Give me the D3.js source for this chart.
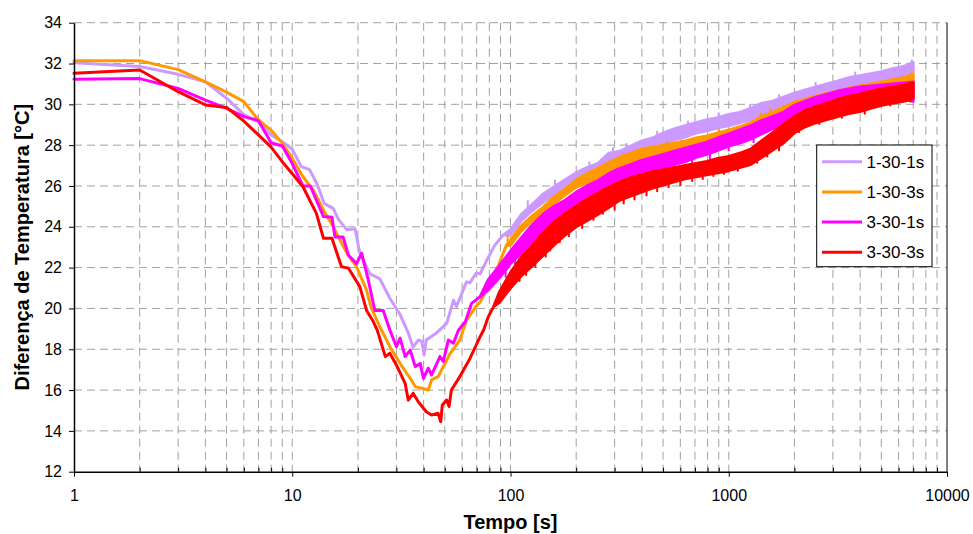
<!DOCTYPE html>
<html><head><meta charset="utf-8">
<script src="https://cdn.jsdelivr.net/npm/d3@7"></script>
<style>
html,body{margin:0;padding:0;background:#fff;}
svg{display:block;font-family:"Liberation Sans",Arial,sans-serif;}
</style></head>
<body><svg id="c" width="973" height="534"></svg>
<script>
// ---- data ----
const seriesNames = ["1-30-1s","1-30-3s","3-30-1s","3-30-3s"];
const seriesColors = ["#CC99FF","#FF9900","#FF00FF","#FF0000"];
const yTicks = [12,14,16,18,20,22,24,26,28,30,32,34];
const xTicks = [1,10,100,1000,10000];
const xTickLabels = ["1","10","100","1000","10000"];
const xTitle = "Tempo [s]";
const yTitle = "Diferença de Temperatura [°C]";

// rows: [t, high, low]  (low omitted where the trace is a single line)
const s1 = [[1,32.04],[2,31.85],[3,31.47],[4,31.1],[5,30.3],[6,29.5],[7,29.15],[8,28.5],[9,28.17],[10,27.8],[11,26.95],[12,26.8],[13,26.1],[14,25.15],[15.4,24.9],[16.3,24.35],[17.8,23.85],[19.4,23.9],[20.4,22.7],[22.7,21.7],[25.2,21.45],[28,20.5],[31.2,19.7],[34,18.8],[35.8,18.1],[37.8,18.45],[39.2,18.4],[40.2,17.72],[41.1,18.45],[45.8,18.8],[51,19.27],[54.8,20.4],[56.5,20.1],[58.6,20.5],[62.9,21.3],[65.2,21.25],[69.5,21.72],[72.6,21.7],[77.9,22.37],[84.8,23.1],[92.6,23.6],
[100,23.85,23.6],[112,24.6,24.3],[126,25.1,24.8],[141,25.6,25.2],[158,25.95,25.6],[178,26.3,25.9],[200,26.65,26.2],[224,26.9,26.5],[251,27.1,26.7],[282,27.6,27.1],[316,27.7,27.3],[355,27.95,27.45],[398,28.2,27.7],[447,28.35,27.9],[501,28.6,28.05],[562,28.8,28.25],[631,28.95,28.4],[708,29.1,28.6],[794,29.25,28.7],[891,29.35,28.85],[1000,29.5,28.95],[1122,29.6,29.1],[1259,29.8,29.25],[1413,30.05,29.5],[1585,30.15,29.65],[1778,30.35,29.8],[1995,30.55,30.0],[2239,30.7,30.15],[2512,30.85,30.3],[2818,31.0,30.45],[3162,31.15,30.6],[3548,31.3,30.8],[3981,31.4,30.9],[4467,31.5,31.0],[5012,31.6,31.1],[5623,31.75,31.25],[6310,31.85,31.35],[7000,32.05,31.5]];

const s2 = [[1,32.14],[2,32.14],[3,31.7],[4,31.1],[5,30.6],[6,30.13],[7,29.23],[8,28.74],[9,28.09],[10,27.35],[11.2,26.45],[12.5,25.8],[13.9,24.82],[15.4,24.0],[17.8,22.7],[19.7,22.05],[21.9,20.9],[22.9,20.1],[25.2,19.1],[28,18.13],[31.2,17.31],[34.7,16.58],[36.6,16.17],[39.2,16.09],[42,16.0],[43.5,16.5],[46.6,16.66],[49.2,17.15],[53,17.8],[58.6,18.45],[62.9,19.43],[69.5,20.1],[72.6,20.3],[77.9,21.0],[86.3,21.88],[95.8,23.1],
[100,23.35,23.1],[112,24.05,23.8],[126,24.55,24.3],[141,24.95,24.7],[158,25.45,25.15],[178,25.85,25.55],[200,26.3,25.95],[224,26.6,26.15],[251,26.85,26.4],[282,27.15,26.7],[316,27.4,26.9],[355,27.6,27.1],[398,27.8,27.3],[447,27.9,27.45],[501,28.0,27.55],[562,28.1,27.65],[631,28.2,27.75],[708,28.35,27.9],[794,28.45,28.05],[891,28.6,28.15],[1000,28.75,28.3],[1122,28.9,28.5],[1259,29.1,28.7],[1413,29.4,28.95],[1585,29.6,29.15],[1778,29.85,29.45],[1995,30.1,29.7],[2239,30.25,29.85],[2512,30.4,30.0],[2818,30.55,30.1],[3162,30.65,30.25],[3548,30.8,30.4],[3981,30.9,30.5],[4467,31.0,30.65],[5012,31.1,30.75],[5623,31.2,30.85],[6310,31.3,30.95],[7000,31.45,31.05]];

const s3 = [[1,31.23],[2,31.26],[3,30.78],[4,30.21],[5,29.8],[6,29.4],[7,29.2],[8,28.12],[9,27.96],[10,27.1],[11.2,26.0],[12.1,26.0],[13.9,24.5],[15.2,24.47],[15.7,23.5],[17.1,23.5],[18.1,22.6],[19.7,22.2],[20.8,22.7],[22.3,21.4],[23.9,19.9],[26.1,19.9],[28,18.94],[30,18.13],[31.2,18.54],[32.9,17.64],[34.7,17.96],[36.6,17.15],[38.6,17.3],[39.9,16.58],[42,17.07],[43.5,16.74],[47.5,17.64],[49.2,17.4],[51.9,18.45],[54.8,18.3],[57.8,18.94],[62.1,19.35],[66.3,20.25],[72.6,20.58],
[79,21.4,20.9],[89,22.1,21.5],[100,22.8,22.2],[112,23.45,22.7],[126,24.1,23.3],[141,24.6,23.7],[158,25.0,24.2],[178,25.3,24.5],[200,25.7,24.9],[224,26.0,25.2],[251,26.25,25.4],[282,26.6,25.6],[316,26.85,25.9],[355,27.05,26.2],[398,27.25,26.45],[447,27.4,26.65],[501,27.55,26.85],[562,27.7,27.05],[631,27.85,27.2],[708,28.0,27.4],[794,28.15,27.55],[891,28.35,27.75],[1000,28.55,27.95],[1122,28.75,28.1],[1259,28.95,28.3],[1413,29.2,28.55],[1585,29.4,28.8],[1778,29.6,29.0],[1995,29.95,29.35],[2239,30.15,29.55],[2512,30.35,29.75],[2818,30.5,29.9],[3162,30.65,30.0],[3548,30.75,30.1],[3981,30.85,30.2],[4467,30.9,30.25],[5012,30.95,30.3],[5623,31.0,30.3],[6310,31.05,30.25],[7000,31.1,30.15]];

const s4 = [[1,31.52],[2,31.68],[3,30.62],[4,29.97],[5,29.85],[6,29.18],[7,28.5],[8,27.9],[9,27.19],[10,26.6],[11.2,25.96],[12.9,24.66],[13.9,23.44],[15.2,23.44],[16.8,22.05],[18.1,21.97],[20.4,21.07],[21.9,19.9],[23.4,19.4],[24.5,18.94],[26.7,17.64],[28,17.8],[30,17.23],[32.9,16.33],[34,15.51],[35.8,15.84],[37.8,15.43],[41.1,14.94],[43.5,14.78],[46.6,14.86],[47.9,14.45],[48.7,15.27],[51,15.51],[52.3,15.19],[53.6,16.0],[58.6,16.66],[65.2,17.55],[72.6,18.62],[75.3,18.94],[79.2,19.6],[83.7,20.09],
[89,20.8,20.3],[100,21.75,21.0],[112,22.5,21.6],[126,23.1,22.1],[141,23.7,22.6],[158,24.2,23.1],[178,24.65,23.6],[200,25.0,24.0],[224,25.35,24.3],[251,25.65,24.6],[282,25.95,24.95],[316,26.2,25.3],[355,26.4,25.5],[398,26.55,25.7],[447,26.7,25.9],[501,26.8,26.05],[562,26.9,26.2],[631,27.0,26.35],[708,27.1,26.45],[794,27.2,26.55],[891,27.35,26.65],[1000,27.45,26.75],[1122,27.6,26.9],[1259,27.8,27.05],[1413,28.2,27.4],[1585,28.6,27.75],[1778,29.0,28.1],[1995,29.4,28.6],[2239,29.7,28.9],[2512,29.9,29.1],[2818,30.05,29.25],[3162,30.25,29.4],[3548,30.4,29.55],[3981,30.5,29.65],[4467,30.65,29.8],[5012,30.75,29.95],[5623,30.85,30.05],[6310,30.95,30.15],[7000,31.05,30.3]];

// individual noise spikes seen in the picture: [t, from, to]
const k1 = [[120,24.7,25.3],[160,25.6,26.3],[230,26.6,27.2],[295,27.2,27.9],[340,27.5,28.1],[470,28.0,28.7],[650,28.5,29.2],[900,28.9,29.6],[1250,29.3,30.0],[1700,29.8,30.5],[2500,30.4,31.1],[3800,31.0,31.6],[6900,31.6,32.2]];
const k2 = [[97,23.0,23.6],[330,27.0,27.6],[520,27.6,28.2],[900,28.2,28.8],[1400,29.0,29.6],[1550,29.2,29.8],[6900,31.0,31.6]];
const k3 = [[95,22.5,21.5],[105,23.0,21.9],[118,23.7,22.5],[133,24.3,23.0],[150,24.8,23.5],[170,25.2,23.9],[190,25.5,24.2],[215,25.9,24.6],[235,26.1,24.8],[270,26.45,25.1],[300,26.7,25.3],[340,26.95,25.6],[380,27.15,25.9],[430,27.35,26.2],[480,27.5,26.4],[560,27.7,26.7],[680,27.95,27.0],[820,28.2,27.3],[1000,28.55,27.7],[1300,29.0,28.1],[1700,29.5,28.6],[2300,30.2,29.3],[3200,30.65,29.8],[4500,30.9,30.0],[6500,31.05,30.1]];
const k4 = [[110,22.4,21.3],[118,22.8,21.6],[130,23.2,22.0],[145,23.8,22.5],[152,24.0,22.8],[168,24.4,23.2],[185,24.8,23.5],[213,25.2,23.9],[240,25.5,24.3],[265,25.8,24.6],[300,26.05,24.8],[330,26.25,25.1],[370,26.45,25.3],[420,26.6,25.5],[470,26.7,25.7],[530,26.85,25.9],[600,26.95,26.0],[680,27.05,26.2],[760,27.15,26.3],[850,27.3,26.45],[950,27.4,26.55],[1100,27.55,26.7],[1350,28.0,27.1],[1500,28.4,27.4],[1700,28.8,27.7],[1900,29.2,28.3],[2100,29.55,28.6],[2600,29.95,29.0],[3300,30.3,29.3],[4200,30.55,29.5],[5500,30.85,29.9],[6800,31.0,30.1]];

const allSeries = [s1,s2,s3,s4];
const allSpikes = [k1,k2,k3,k4];

// ---- layout ----
const L=74, R=947, T=22.7, B=471.7;
const svg = d3.select("#c");
const x = d3.scaleLog().domain([1,10000]).range([L,R]);
const y = d3.scaleLinear().domain([12,34]).range([B,T]);

const minorT = [];
for (let d=1; d<10000; d*=10) for (let k=2;k<=10;k++) minorT.push(d*k);
const gridX = minorT.filter(v=>v<10000);

const g = svg.append("g");
g.selectAll("line.gx").data(gridX).join("line")
  .attr("x1",d=>x(d)).attr("x2",d=>x(d)).attr("y1",T).attr("y2",B)
  .attr("stroke","#a0a0a0").attr("stroke-width",1).attr("stroke-dasharray","8,5");
g.selectAll("line.gy").data(yTicks.filter(v=>v>12)).join("line")
  .attr("x1",L).attr("x2",R).attr("y1",d=>y(d)).attr("y2",d=>y(d))
  .attr("stroke","#a0a0a0").attr("stroke-width",1).attr("stroke-dasharray","8,5");
svg.append("line").attr("x1",R).attr("x2",R).attr("y1",T).attr("y2",B)
  .attr("stroke","#000").attr("stroke-width",1);

const area = d3.area()
  .x(d=>x(d[0]))
  .y1(d=>y(d[1]))
  .y0(d=>y(d.length>2?d[2]:d[1]));
allSeries.forEach((s,i)=>{
  svg.append("path").datum(s).attr("d",area)
    .attr("fill",seriesColors[i]).attr("stroke",seriesColors[i])
    .attr("stroke-width",3).attr("stroke-linejoin","round");
  svg.append("g").selectAll("line").data(allSpikes[i]).join("line")
    .attr("x1",d=>x(d[0])).attr("x2",d=>x(d[0]))
    .attr("y1",d=>y(d[1])).attr("y2",d=>y(d[2]))
    .attr("stroke",seriesColors[i]).attr("stroke-width",2);
});

const yAxis = d3.axisLeft(y).tickValues(yTicks).tickSize(5).tickSizeOuter(0).tickPadding(7);
const ya = svg.append("g").attr("transform",`translate(${L},0)`).call(yAxis);
const xAxis = d3.axisBottom(x).tickValues(xTicks).tickFormat((d,i)=>xTickLabels[i]).tickSize(5).tickSizeOuter(0).tickPadding(13);
const xa = svg.append("g").attr("transform",`translate(0,${B})`).call(xAxis);
const xMinor = d3.axisBottom(x).tickValues(gridX.filter(v=>!xTicks.includes(v))).tickFormat("").tickSize(-4).tickSizeOuter(0);
svg.append("g").attr("transform",`translate(0,${B})`).call(xMinor).select(".domain").remove();
[ya,xa].forEach(a=>{
  a.selectAll("text").attr("font-size",16).attr("fill","#000").attr("font-family","Liberation Sans, Arial, sans-serif");
  a.selectAll("line").attr("stroke","#000");
  a.select(".domain").attr("stroke","#000").attr("stroke-width",1.5);
});

svg.append("text").attr("x",(L+R)/2).attr("y",529).attr("text-anchor","middle")
  .attr("font-size",20).attr("font-weight","bold").text(xTitle);
svg.append("text").attr("transform",`translate(29,${(T+B)/2}) rotate(-90)`).attr("text-anchor","middle")
  .attr("font-size",20).attr("font-weight","bold").text(yTitle);

const lg = svg.append("g");
lg.append("rect").attr("x",816.7).attr("y",145).attr("width",115.3).attr("height",121.7)
  .attr("fill","#fff").attr("stroke","#000").attr("stroke-width",1);
seriesNames.forEach((n,i)=>{
  const yy = 161.7 + i*30.2;
  lg.append("line").attr("x1",822).attr("x2",862).attr("y1",yy).attr("y2",yy)
    .attr("stroke",seriesColors[i]).attr("stroke-width",3);
  lg.append("text").attr("x",866.5).attr("y",yy).attr("dy","0.36em")
    .attr("font-size",17).attr("fill","#000").text(n);
});
</script></body></html>
